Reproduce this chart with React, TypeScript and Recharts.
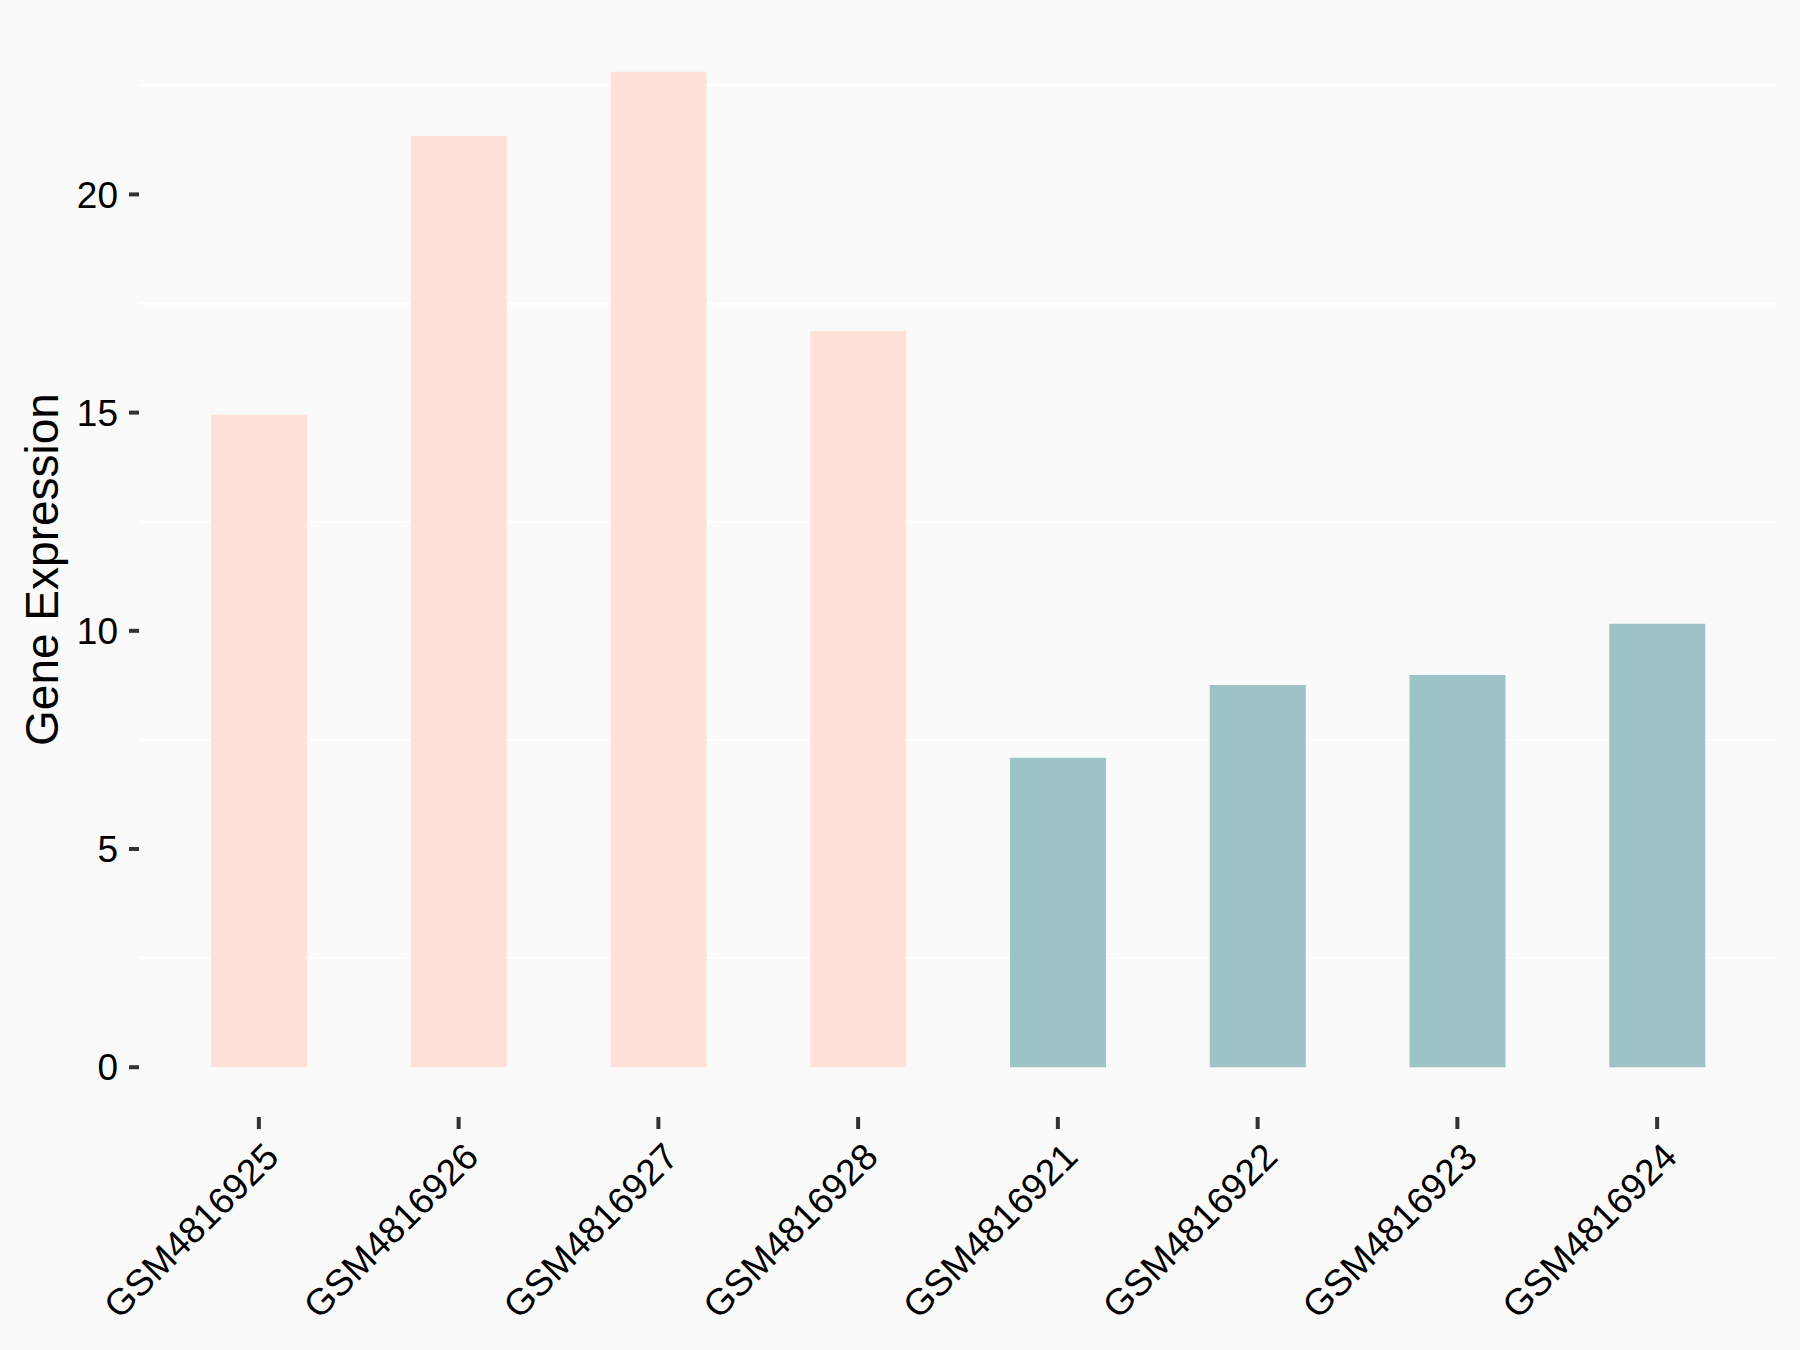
import { Bar, BarChart, CartesianGrid, Cell, XAxis, YAxis } from 'recharts'

const samples = [
  'GSM4816925',
  'GSM4816926',
  'GSM4816927',
  'GSM4816928',
  'GSM4816921',
  'GSM4816922',
  'GSM4816923',
  'GSM4816924',
]
const expression = [14.95, 21.34, 22.81, 16.87, 7.09, 8.76, 8.99, 10.16]
const groups = ['high', 'high', 'high', 'high', 'low', 'low', 'low', 'low']
const yTicks = [0, 5, 10, 15, 20]
const minorGrid = [2.5, 7.5, 12.5, 17.5, 22.5]

const groupColors: Record<string, string> = {
  high: '#FFE1D7',
  low: '#9CC4C8',
}

const data = samples.map((sample, i) => ({
  sample,
  value: expression[i],
  group: groups[i],
}))

// ggplot-style 5% expansion on the continuous axis
const span = Math.max(...expression)
const yDomain = [-span * 0.05, span * 1.05]

const FONT = '"Liberation Sans", Arial, sans-serif'

function SampleTick(props: any) {
  const { x, y, payload } = props
  const tx = x + 22
  const ty = y + 30
  return (
    <text
      x={tx}
      y={ty}
      transform={`rotate(-45, ${tx}, ${ty})`}
      textAnchor="end"
      fontSize={37}
      fontFamily={FONT}
      fill="#000"
    >
      {payload.value}
    </text>
  )
}

function AxisTitle(props: any) {
  const vb = props.viewBox || { x: 0, y: 0, width: 0, height: 0 }
  const x = vb.x + 58
  const y = vb.y + vb.height / 2
  return (
    <text
      x={x}
      y={y}
      transform={`rotate(-90, ${x}, ${y})`}
      textAnchor="middle"
      fontSize={46}
      fontFamily={FONT}
      fill="#000"
    >
      Gene Expression
    </text>
  )
}

export default function App() {
  return (
    <div style={{ position: 'absolute', left: 0, top: 0, width: 1800, height: 1350, background: '#FAFAFA' }}>
      <BarChart
        width={1800}
        height={1350}
        data={data}
        margin={{ top: 22, right: 23, bottom: 0, left: 0 }}
      >
        <CartesianGrid
          vertical={false}
          horizontalValues={minorGrid}
          stroke="#FFFFFF"
          strokeWidth={2}
        />
        <XAxis
          dataKey="sample"
          type="category"
          height={233}
          padding={{ left: 20, right: 20 }}
          axisLine={false}
          tickLine={{ stroke: '#333333', strokeWidth: 4 }}
          tickSize={12}
          tickMargin={0}
          interval={0}
          tick={<SampleTick />}
        />
        <YAxis
          type="number"
          width={139}
          domain={yDomain}
          allowDataOverflow
          ticks={yTicks}
          axisLine={false}
          tickLine={{ stroke: '#333333', strokeWidth: 4 }}
          tickSize={10}
          tickMargin={11}
          tick={{ fontSize: 37, fontFamily: FONT, fill: '#000' }}
          label={{ content: (p: any) => <AxisTitle {...p} /> }}
        />
        <Bar dataKey="value" barSize={96} isAnimationActive={false}>
          {data.map((d) => (
            <Cell key={d.sample} fill={groupColors[d.group]} />
          ))}
        </Bar>
      </BarChart>
    </div>
  )
}
